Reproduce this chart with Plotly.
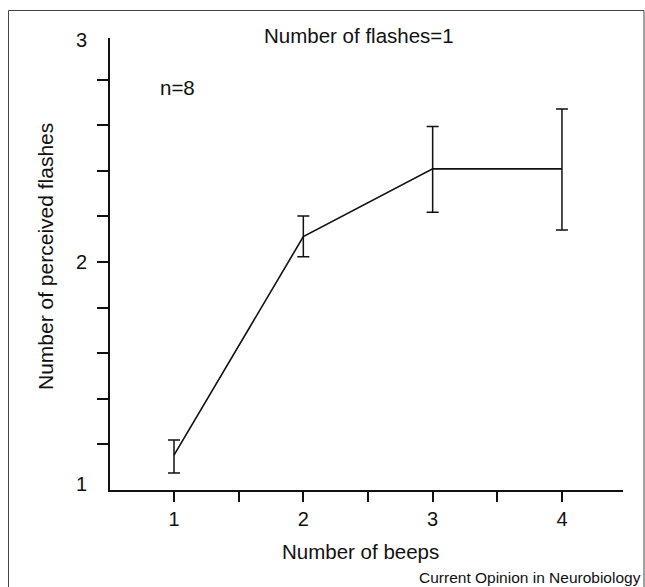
import plotly.graph_objects as go

# Data
beeps = [1, 2, 3, 4]
perceived = [1.153, 2.111, 2.408, 2.408]
err_plus = [0.066, 0.091, 0.186, 0.263]
err_minus = [0.079, 0.088, 0.190, 0.268]

x_tickvals = [1, 1.5, 2, 2.5, 3, 3.5, 4]
x_ticktext = ["1", "", "2", "", "3", "", "4"]
y_tickvals = [1.2, 1.4, 1.6, 1.8, 2.0, 2.2, 2.4, 2.6, 2.8]
y_labels = ["1", "2", "3"]
y_label_pos = [1.026, 2.0, 2.974]

FONT = "Liberation Sans, Arial, Helvetica, sans-serif"
INK = "#111111"

W, H = 645, 587
L, R, T, B = 110, 22, 38, 97
PW, PH = W - L - R, H - T - B


def px(x):
    return (x - L) / PW


def py(y):
    return (H - B - y) / PH


fig = go.Figure()
fig.add_trace(go.Scatter(
    x=beeps, y=perceived, mode="lines",
    line=dict(color=INK, width=1.6),
    error_y=dict(type="data", symmetric=False, array=err_plus, arrayminus=err_minus,
                 color=INK, thickness=1.5, width=6),
    showlegend=False, hoverinfo="skip",
))

fig.update_xaxes(
    range=[0.505, 4.472], tickvals=x_tickvals, ticktext=x_ticktext,
    ticks="outside", ticklen=10, tickwidth=1.5, tickcolor=INK,
    showline=True, linecolor=INK, linewidth=1.6, showgrid=False, zeroline=False,
    tickfont=dict(family=FONT, size=20, color=INK),
)
fig.update_yaxes(
    range=[1, 2.982], tickvals=y_tickvals, showticklabels=False,
    ticks="outside", ticklen=11, tickwidth=1.5, tickcolor=INK,
    showline=True, linecolor=INK, linewidth=1.6, showgrid=False, zeroline=False,
)

ann = []
for lab, v in zip(y_labels, y_label_pos):
    ann.append(dict(text=lab, x=px(81), xref="paper", y=v, yref="y",
                    xanchor="center", yanchor="middle", showarrow=False,
                    font=dict(family=FONT, size=20, color=INK)))
ann += [
    dict(text="Number of flashes=1", x=px(358.5), y=py(35), xref="paper", yref="paper",
         xanchor="center", yanchor="middle", showarrow=False,
         font=dict(family=FONT, size=20.5, color=INK)),
    dict(text="n=8", x=px(177), y=py(88), xref="paper", yref="paper",
         xanchor="center", yanchor="middle", showarrow=False,
         font=dict(family=FONT, size=20.5, color=INK)),
    dict(text="Number of beeps", x=px(360), y=py(551), xref="paper", yref="paper",
         xanchor="center", yanchor="middle", showarrow=False,
         font=dict(family=FONT, size=20.5, color=INK)),
    dict(text="Number of perceived flashes", x=px(45), y=py(257), xref="paper", yref="paper",
         xanchor="center", yanchor="middle", showarrow=False, textangle=-90,
         font=dict(family=FONT, size=21, color=INK)),
    dict(text="Current Opinion in Neurobiology", x=px(643), y=py(577), xref="paper", yref="paper",
         xanchor="right", yanchor="middle", showarrow=False,
         font=dict(family=FONT, size=15.5, color=INK)),
]

fig.update_layout(
    width=W, height=H,
    margin=dict(l=L, r=R, t=T, b=B, pad=0),
    paper_bgcolor="white", plot_bgcolor="white",
    annotations=ann,
    hovermode=False,
    shapes=[dict(type="rect", xref="paper", yref="paper",
                 x0=px(8.5), x1=px(644), y0=py(600), y1=py(10.5),
                 line=dict(color="#444444", width=1), fillcolor="rgba(0,0,0,0)")],
)

fig.write_html("out.html",
               config={"displayModeBar": False},
               post_script="document.body.style.margin='0';document.body.style.overflow='hidden';")
